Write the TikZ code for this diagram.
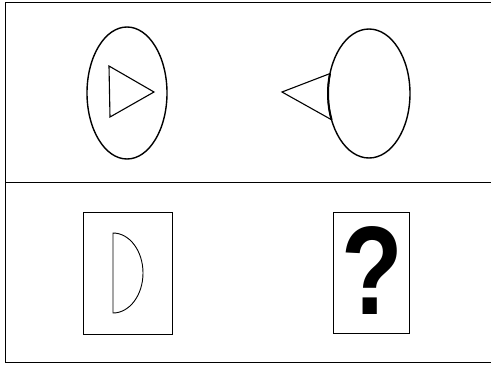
\documentclass[tikz,border=0pt]{standalone}
\usepackage{fontspec}
\newfontfamily\qfont{Liberation Sans}
\usetikzlibrary{shapes.geometric, positioning, calc}

\begin{document}
\begin{tikzpicture}[x=1pt, y=-1pt,
    egg/.style={ellipse, draw, line width=1.4pt, outer sep=0pt, inner sep=0pt},
    card/.style={rectangle, draw, line width=1pt, inner sep=0pt}]
    \useasboundingbox (0,0) rectangle (491,365);
    % frame
    \draw[line width=1pt] (491,2) -- (5,2) -- (5,362) -- (491,362);
    \draw[line width=1pt] (5,182) -- (491,182);
%
    \node[egg, minimum width=80pt, minimum height=132pt] (leftegg) at (127,93) {};
    \node[egg, minimum width=82pt, minimum height=129pt] (rightegg) at (369,93.5) {};
    \draw[line width=1.1pt, line join=miter] (109,66) -- (154,92) -- (110,117) -- cycle;
    \coordinate (tip) at (282,92);
    \coordinate (top) at ($(rightegg.center)+(204:41pt and 64.5pt)$);
    \coordinate (bot) at ($(rightegg.center)+(162:41pt and 64.5pt)$);
    \draw[line width=1.1pt] (top) -- (tip) -- (bot);
    \draw[line width=2pt] (top) arc[start angle=204, end angle=162, x radius=41pt, y radius=64.5pt];
%
    \node[card, minimum width=89pt, minimum height=122pt] (leftcard) at (127.5,273) {};
    \node[card, minimum width=76pt, minimum height=121pt] (rightcard) at (371,272.5) {};
    \draw[line width=0.9pt] (113,233) arc[start angle=90, end angle=-90, x radius=30pt, y radius=40pt] -- cycle;
    \node[inner sep=0pt, xscale=0.8] (question) at (372,271) {\qfont\bfseries\fontsize{126}{126}\selectfont ?};
\end{tikzpicture}
\end{document}
